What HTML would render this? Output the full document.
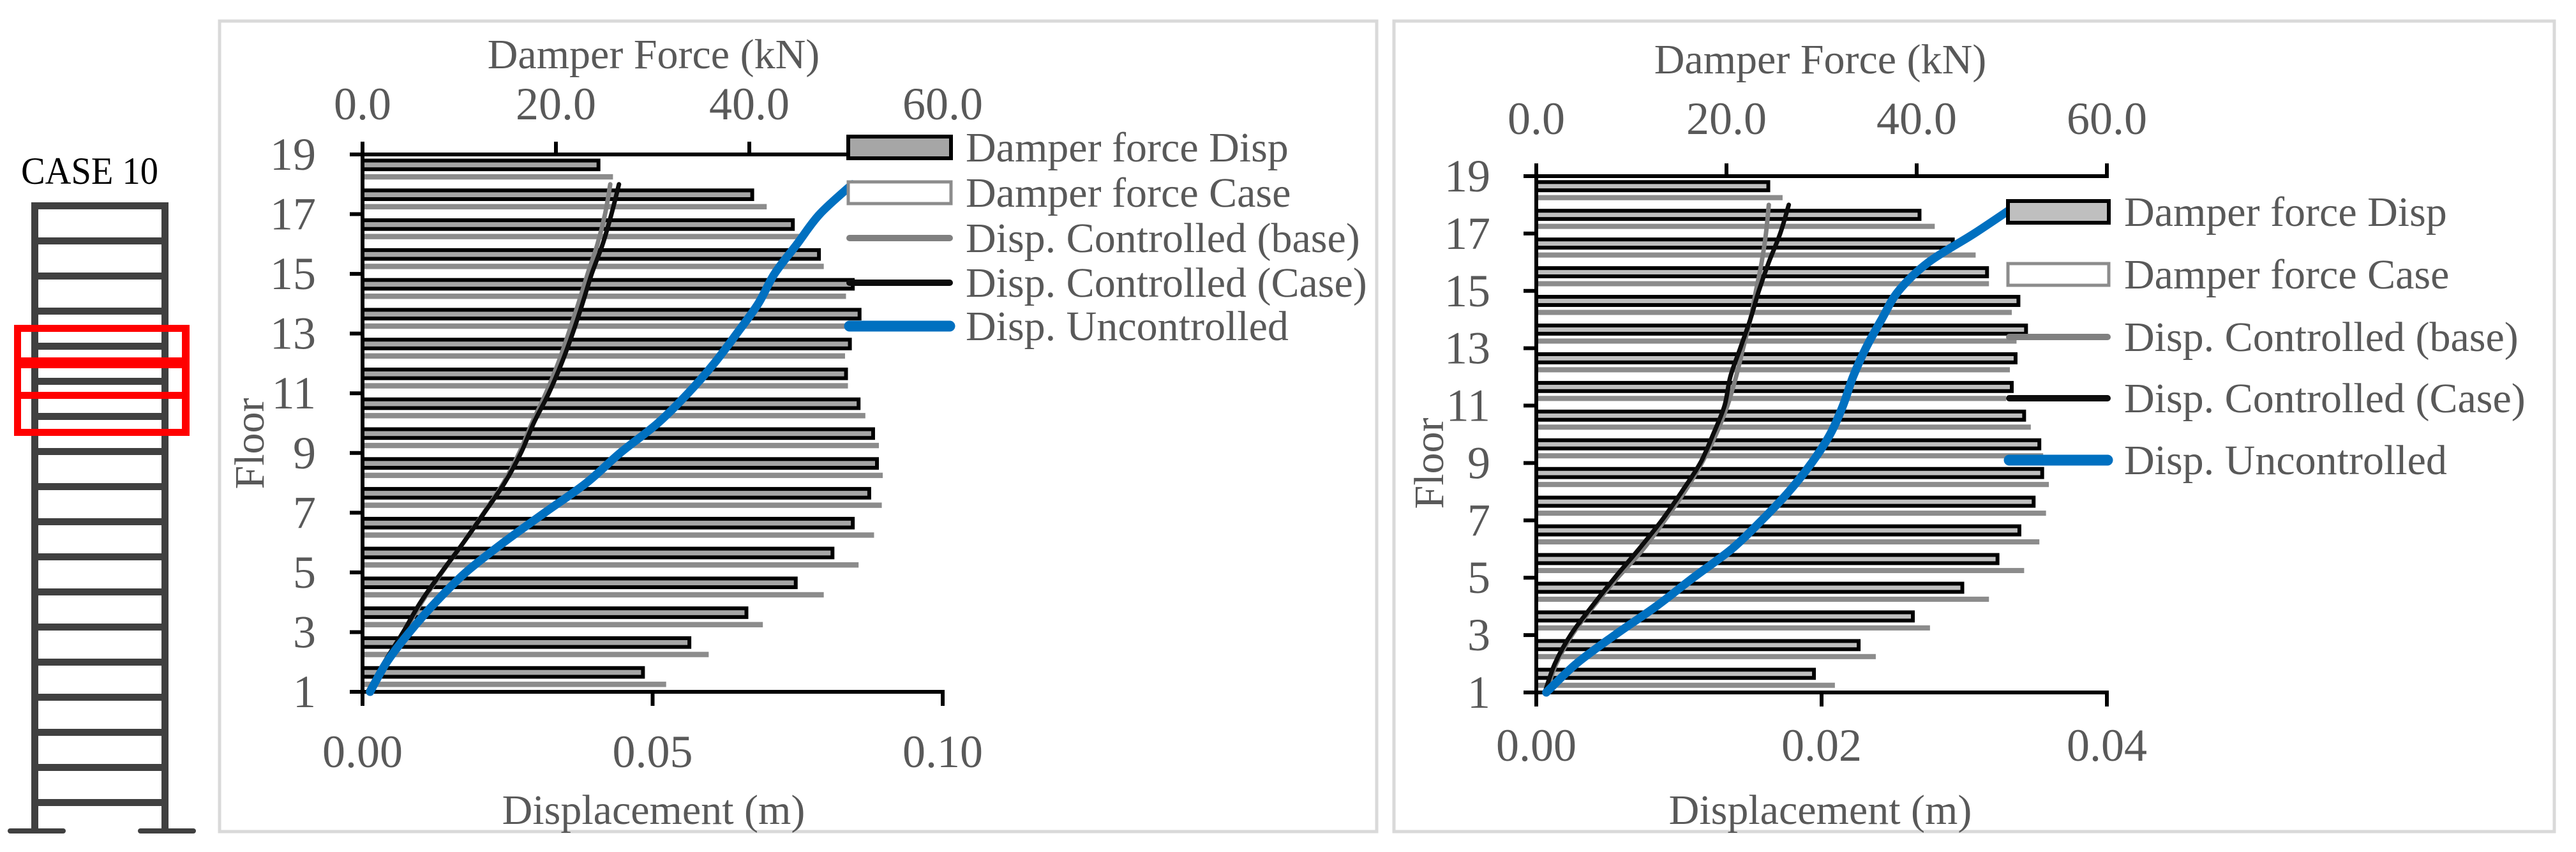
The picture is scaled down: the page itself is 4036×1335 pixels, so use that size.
<!DOCTYPE html>
<html><head><meta charset="utf-8"><style>
html,body{margin:0;padding:0;background:#fff;}
svg{display:block;}
text{font-family:"Liberation Serif",serif;}
</style></head><body>
<svg id="fig" xmlns="http://www.w3.org/2000/svg" width="4036" height="1335" viewBox="0 0 4036 1335">
<g id="building"></g>
<rect x="344" y="33" width="1813" height="1270" fill="none" stroke="#d9d9d9" stroke-width="5"/>
<rect x="2184" y="33" width="1818" height="1270" fill="none" stroke="#d9d9d9" stroke-width="5"/>
<g id="c1"></g>
<g id="c2"></g>
</svg>
<script>
// ---- data: left chart ----
const floors = [1,2,3,4,5,6,7,8,9,10,11,12,13,14,15,16,17,18];
const floorTicks = ["1","3","5","7","9","11","13","15","17","19"];
const forceTicks = ["0.0","20.0","40.0","60.0"];
const leftDispTicks = ["0.00","0.05","0.10"];
const leftForceDisp = [29.2,34.0,39.9,45.0,48.8,50.9,52.6,53.4,53.0,51.5,50.2,50.6,51.6,50.9,47.4,44.7,40.5,24.6];
const leftForceCase = [31.4,35.8,41.4,47.7,51.3,52.9,53.7,53.8,53.4,52.0,50.2,49.9,50.8,50.0,47.7,45.5,41.8,25.9];
const leftCtrlBase = [0.0010,0.0040,0.0072,0.0102,0.0137,0.0174,0.0209,0.0243,0.0270,0.0292,0.0316,0.0337,0.0355,0.0372,0.0388,0.0405,0.0418,0.0427];
const leftCtrlCase = [0.0009,0.0038,0.0070,0.0100,0.0136,0.0174,0.0210,0.0245,0.0273,0.0295,0.0321,0.0343,0.0362,0.0379,0.0395,0.0414,0.0429,0.0442];
const leftUncontrolled = [0.0013,0.0042,0.0081,0.0126,0.0178,0.0243,0.0314,0.0386,0.0444,0.0509,0.0561,0.0606,0.0645,0.0682,0.0710,0.0749,0.0788,0.0844];
// ---- data: right chart ----
const rightDispTicks = ["0.00","0.02","0.04"];
const rightForceDisp = [29.4,34.1,39.8,45.0,48.7,51.0,52.5,53.4,53.1,51.5,50.2,50.6,51.7,50.9,47.6,44.0,40.5,24.6];
const rightForceCase = [31.4,35.7,41.4,47.6,51.3,52.9,53.6,53.9,53.3,52.0,49.4,49.8,50.5,50.0,47.6,46.2,41.9,25.9];
const rightCtrlBase = [0.0007,0.0014,0.0025,0.0040,0.0057,0.0075,0.0090,0.0104,0.0116,0.0126,0.0134,0.0140,0.0145,0.0150,0.0154,0.0158,0.0161,0.0163];
const rightCtrlCase = [0.0006,0.0013,0.0024,0.0039,0.0055,0.0072,0.0088,0.0102,0.0115,0.0124,0.0132,0.0136,0.0143,0.0150,0.0156,0.0163,0.0171,0.0177];
const rightUncontrolled = [0.0007,0.0028,0.0055,0.0084,0.0110,0.0137,0.0158,0.0177,0.0193,0.0206,0.0215,0.0222,0.0231,0.0242,0.0254,0.0275,0.0307,0.0337];
const legendLabels = ["Damper force Disp","Damper force Case","Disp. Controlled (base)","Disp. Controlled (Case)","Disp. Uncontrolled"];

const NS = "http://www.w3.org/2000/svg";
function mk(parent, tag, attrs, txt){
  const e = document.createElementNS(NS, tag);
  for (const k in attrs) e.setAttribute(k, attrs[k]);
  if (txt !== undefined) e.textContent = txt;
  parent.appendChild(e);
  return e;
}
function smoothPath(pts){
  let d = "M" + pts[0][0] + "," + pts[0][1];
  for (let i=0;i<pts.length-1;i++){
    const p0 = pts[Math.max(0,i-1)], p1 = pts[i], p2 = pts[i+1], p3 = pts[Math.min(pts.length-1,i+2)];
    const c1x = p1[0]+(p2[0]-p0[0])/6, c1y = p1[1]+(p2[1]-p0[1])/6;
    const c2x = p2[0]-(p3[0]-p1[0])/6, c2y = p2[1]-(p3[1]-p1[1])/6;
    d += " C"+c1x+","+c1y+" "+c2x+","+c2y+" "+p2[0]+","+p2[1];
  }
  return d;
}

function drawChart(g, cfg){
  const xD = v => cfg.x0 + v/cfg.dMax*(cfg.x1-cfg.x0);
  const xF = v => cfg.x0 + v/60*(cfg.x1-cfg.x0);
  const yF = f => cfg.y1 - (f-1)*(cfg.y1-cfg.y19)/18;
  const sp = (cfg.y1-cfg.y19)/18;
  const grey = "#595959";
  floors.forEach((f,i)=>{
    const top = yF(f+1);
    let r = mk(g,"rect",{x:cfg.x0, y:top+sp*0.66, width:xF(cfg.fCase[i])-cfg.x0, height:sp*0.18, fill:"#8c8c8c"});
    
    
    r = mk(g,"rect",{x:cfg.x0, y:top+sp*0.14+3, width:xF(cfg.fDisp[i])-cfg.x0-3, height:sp*0.42-6, fill:cfg.dispFill, stroke:"#000", "stroke-width":6});
    
    
  });
  const ax = mk(g,"g",{stroke:"#000","stroke-width":6,fill:"none"});
  
  
  mk(ax,"line",{x1:cfg.x0,y1:cfg.y19-20,x2:cfg.x0,y2:cfg.y1+22});
  mk(ax,"line",{x1:cfg.x0-20,y1:cfg.y1,x2:cfg.x1+3,y2:cfg.y1});
  mk(ax,"line",{x1:cfg.x0-20,y1:cfg.y19,x2:cfg.x1+3,y2:cfg.y19});
  floorTicks.forEach(t=>{
    const y=yF(+t);
    mk(ax,"line",{x1:cfg.x0-20,y1:y,x2:cfg.x0,y2:y});
    const tx = mk(g,"text",{x:cfg.ylabX,y:y+24,"text-anchor":"end","font-size":72,fill:grey},t);
    
    
  });
  forceTicks.forEach((t,i)=>{
    const x=xF(parseFloat(t));
    mk(ax,"line",{x1:x,y1:cfg.y19-20,x2:x,y2:cfg.y19});
    const tx = mk(g,"text",{x:x,y:cfg.topLabY+25,"text-anchor":"middle","font-size":72,fill:grey},t);
    
    
  });
  cfg.dTicks.forEach((t,i)=>{
    const x=xD(parseFloat(t));
    mk(ax,"line",{x1:x,y1:cfg.y1,x2:x,y2:cfg.y1+22});
    const tx = mk(g,"text",{x:x,y:cfg.botLabY+25,"text-anchor":"middle","font-size":72,fill:grey},t);
    
    
  });
  let t = mk(g,"text",{x:cfg.titleX,y:cfg.topTitleY+22,"text-anchor":"middle","font-size":66,fill:grey},"Damper Force (kN)");
  
  
  t = mk(g,"text",{x:cfg.titleX,y:1269+22,"text-anchor":"middle","font-size":66,fill:grey},"Displacement (m)");
  
  
  t = mk(g,"text",{x:0,y:0,"text-anchor":"middle","font-size":66,fill:grey,transform:"translate("+(cfg.floorX+22)+","+cfg.floorY+") rotate(-90)"},"Floor");
  
  
  const series = [[cfg.base,"#808080",7,"line-disp-controlled-base"],[cfg.ccase,"#0d0d0d",7,"line-disp-controlled-case"],[cfg.unc,"#0070c0",13,"line-disp-uncontrolled"]];
  series.forEach(s=>{
    const pts = floors.map((f,i)=>[xD(s[0][i]), yF(f)]);
    const p = mk(g,"path",{d:smoothPath(pts),fill:"none",stroke:s[1],"stroke-width":s[2],"stroke-linecap":"round"});
    
    
  });
  const lg = mk(g,"g",{});
  
  
  legendLabels.forEach((lab,i)=>{
    const y = cfg.legY[i];
    const e = mk(lg,"g",{});
    
    
    if (i===0) mk(e,"rect",{x:cfg.legX0+3,y:y-17,width:cfg.legX1-cfg.legX0-6,height:34,fill:cfg.dispFill,stroke:"#000","stroke-width":6});
    else if (i===1) mk(e,"rect",{x:cfg.legX0+3,y:y-17,width:cfg.legX1-cfg.legX0-6,height:34,fill:"#fff",stroke:"#8c8c8c","stroke-width":5});
    else {
      const col = ["#808080","#0d0d0d","#0070c0"][i-2], w=[10,10,17][i-2];
      mk(e,"line",{x1:cfg.legX0+5,y1:y,x2:cfg.legX1-5,y2:y,stroke:col,"stroke-width":w,"stroke-linecap":"round"});
    }
    mk(e,"text",{x:cfg.legTextX,y:y+22,"font-size":66,fill:grey},lab);
  });
}

drawChart(document.getElementById("c1"),{
  x0:568,x1:1477,y19:242,y1:1084,dMax:0.10,dTicks:leftDispTicks,
  fDisp:leftForceDisp,fCase:leftForceCase,base:leftCtrlBase,ccase:leftCtrlCase,unc:leftUncontrolled,
  dispFill:"#a6a6a6",ylabX:495,topLabY:162,botLabY:1177,topTitleY:85,titleX:1024,floorX:391,floorY:695,
  legX0:1326,legX1:1493,legTextX:1513,legY:[231,302,373,443,511]
});
drawChart(document.getElementById("c2"),{
  x0:2407,x1:3301,y19:276,y1:1085,dMax:0.04,dTicks:rightDispTicks,
  fDisp:rightForceDisp,fCase:rightForceCase,base:rightCtrlBase,ccase:rightCtrlCase,unc:rightUncontrolled,
  dispFill:"#bfbfbf",ylabX:2335,topLabY:185,botLabY:1167,topTitleY:93,titleX:2852,floorX:2239,floorY:726,
  legX0:3143,legX1:3307,legTextX:3328,legY:[332,430,528,624,721]
});

(function(){
  const b = document.getElementById("building");
  const c = "#404040";
  let t = mk(b,"text",{x:33,y:288,"font-size":60,fill:"#000",textLength:215,lengthAdjust:"spacingAndGlyphs"},"CASE 10");
  
  
  mk(b,"rect",{x:49,y:317,width:11,height:985,fill:c});
  mk(b,"rect",{x:253,y:317,width:11,height:985,fill:c});
  for (let k=0;k<18;k++){
    const y = 317 + k*55;
    mk(b,"rect",{x:49,y:y,width:215,height:11,fill:c});
  }
  mk(b,"rect",{x:12,y:1298,width:91,height:8,rx:4,fill:c});
  mk(b,"rect",{x:216,y:1298,width:91,height:8,rx:4,fill:c});
  const r = mk(b,"g",{fill:"#ff0000"});
  
  
  mk(r,"rect",{x:22,y:509,width:11,height:174});
  mk(r,"rect",{x:285,y:509,width:12,height:174});
  mk(r,"rect",{x:22,y:509,width:275,height:11});
  mk(r,"rect",{x:22,y:560,width:275,height:17});
  mk(r,"rect",{x:22,y:614,width:275,height:11});
  mk(r,"rect",{x:22,y:672,width:275,height:11});
})();
</script>
</body></html>
